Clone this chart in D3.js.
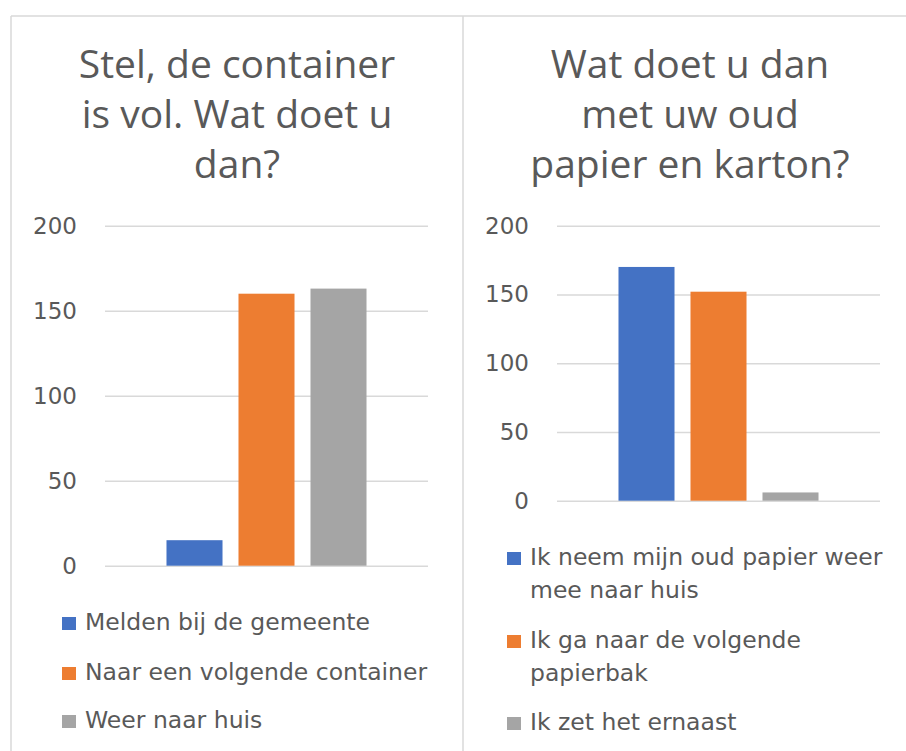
<!DOCTYPE html>
<html>
<head>
<meta charset="utf-8">
<script src="https://cdn.jsdelivr.net/npm/d3@7"></script>
<style>
  body { margin: 0; background: #fff; }
  svg { display: block; }
</style>
</head>
<body>
<script>
// data
var leftTitle = ["Stel, de container", "is vol. Wat doet u", "dan?"],
	leftCategories = ["Melden bij de gemeente", "Naar een volgende container", "Weer naar huis"],
	leftValues = [15, 160, 163];

var rightTitle = ["Wat doet u dan", "met uw oud", "papier en karton?"],
	rightCategories = ["Ik neem mijn oud papier weer mee naar huis", "Ik ga naar de volgende papierbak", "Ik zet het ernaast"],
	rightLegendLines = [["Ik neem mijn oud papier weer", "mee naar huis"], ["Ik ga naar de volgende", "papierbak"], ["Ik zet het ernaast"]],
	rightValues = [170, 152, 6];

var colors = ["#4472c4", "#ed7d31", "#a5a5a5"],
	yTicks = [0, 50, 100, 150, 200];

var W = 906, H = 751;
var textColor = '#595959', gridColor = '#d9d9d9';

var svg = d3.select('body')
	.append('svg')
	.attr('width', W)
	.attr('height', H);

svg.append('rect').attr('width', W).attr('height', H).attr('fill', '#fff');

// panel borders
svg.append('line').attr('x1', 11).attr('x2', W).attr('y1', 16).attr('y2', 16)
	.attr('stroke', gridColor).attr('stroke-width', 1.5);
[11, 463].forEach(function(x) {
	svg.append('line').attr('x1', x).attr('x2', x).attr('y1', 16).attr('y2', H)
		.attr('stroke', gridColor).attr('stroke-width', 1.5);
});

function drawPanel(opt) {
	var g = svg.append('g');

	// title
	g.append('text')
		.attr('text-anchor', 'middle')
		.attr('font-family', 'Open Sans, sans-serif')
		.attr('font-size', 39)
		.attr('fill', textColor)
		.selectAll('tspan')
		.data(opt.title)
		.enter().append('tspan')
			.attr('x', opt.titleX)
			.attr('y', function(d, i) { return 78 + i * 50; })
			.text(function(d) { return d; });

	var x = d3.scaleBand()
		.domain(opt.categories)
		.range([opt.x0, opt.x1])
		.paddingInner(0.222)
		.paddingOuter(0.854);

	var y = d3.scaleLinear()
		.domain([0, 200])
		.range([opt.y0, opt.y1]);

	var yAxis = d3.axisLeft(y)
		.tickValues(yTicks)
		.tickSize(-(opt.x1 - opt.x0))
		.tickPadding(28);

	var ax = g.append('g')
		.attr('transform', 'translate(' + opt.x0 + ',0)')
		.call(yAxis);
	ax.select('.domain').remove();
	ax.selectAll('.tick line').attr('stroke', gridColor).attr('stroke-width', 1.5);
	ax.selectAll('.tick text')
		.attr('fill', textColor)
		.attr('font-family', 'DejaVu Sans, sans-serif')
		.attr('font-size', 23);

	// bars
	g.selectAll('rect.bar')
		.data(opt.values)
		.enter().append('rect')
			.attr('class', 'bar')
			.attr('x', function(d, i) { return x(opt.categories[i]); })
			.attr('width', x.bandwidth())
			.attr('y', function(d) { return y(d); })
			.attr('height', function(d) { return y(0) - y(d); })
			.attr('fill', function(d, i) { return colors[i]; });

	// legend
	var items = g.selectAll('g.legend')
		.data(opt.legend)
		.enter().append('g')
			.attr('class', 'legend')
			.attr('transform', function(d, i) { return 'translate(' + opt.legX + ',' + opt.legY[i] + ')'; });

	items.append('rect')
		.attr('x', 0).attr('y', -13)
		.attr('width', 14).attr('height', 13)
		.attr('fill', function(d, i) { return colors[i]; });

	items.append('text')
		.attr('font-family', 'DejaVu Sans, sans-serif')
		.attr('font-size', 23.5)
		.attr('fill', textColor)
		.selectAll('tspan')
		.data(function(d) { return d; })
		.enter().append('tspan')
			.attr('x', 23)
			.attr('y', function(d, i) { return i * 33; })
			.text(function(d) { return d; });
}

drawPanel({
	title: leftTitle, titleX: 237,
	categories: leftCategories, values: leftValues,
	x0: 105, x1: 428, y0: 565.7, y1: 225.7,
	legend: leftCategories.map(function(c) { return [c]; }),
	legX: 62, legY: [630, 680, 728]
});

drawPanel({
	title: rightTitle, titleX: 690,
	categories: rightCategories, values: rightValues,
	x0: 557, x1: 880, y0: 500.7, y1: 225.7,
	legend: rightLegendLines,
	legX: 507, legY: [565, 648, 730]
});
</script>
</body>
</html>
